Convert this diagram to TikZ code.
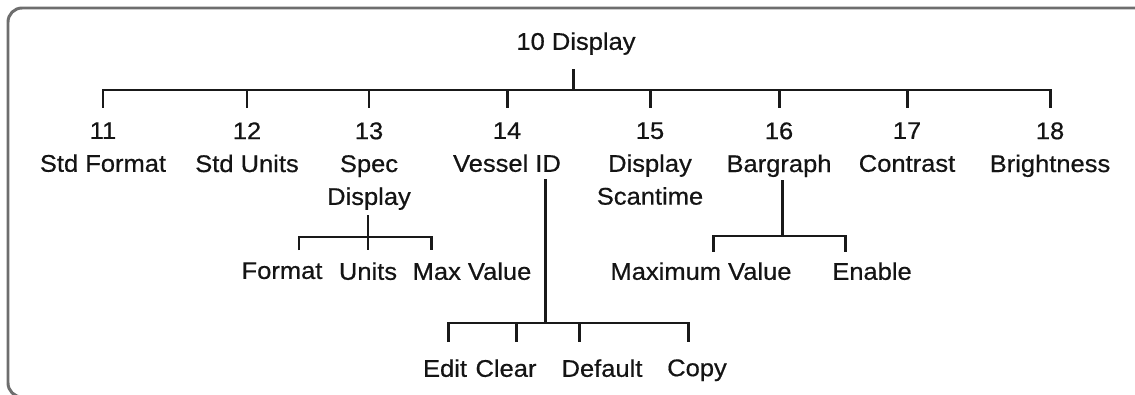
\documentclass[tikz,border=0pt]{standalone}
\usepackage{fontspec}
\setmainfont{Liberation Sans}[FakeStretch=1.06,FakeBold=0.6]
\tikzset{
  item/.style={anchor=north, inner sep=0pt, align=center, text depth=0pt,
    text=black!92, font=\fontsize{13.7}{18.7}\selectfont},
  link/.style={line width=1.7pt, draw=black!90},
  frame/.style={line width=1.7pt, draw=black!57, rounded corners=8pt},
}
\begin{document}
\begin{tikzpicture}[x=0.02cm,y=-0.02cm]
\useasboundingbox (0,0) rectangle (1135,395);
\clip (0,0) rectangle (1135,395);
\draw[frame] (8,8) rectangle (1170,397);

% menu items
\node[item] (disp) at (576,32) {10 Display};
\node[item] (n11) at (103,122) {11\\Std Format};
\node[item] (n12) at (247,122) {12\\Std Units};
\node[item] (n13) at (369,122) {13\\Spec\\Display};
\node[item] (n14) at (507,122) {14\\Vessel ID};
\node[item] (n15) at (650,122) {15\\Display\\Scantime};
\node[item] (n16) at (779,122) {16\\Bargraph};
\node[item] (n17) at (907,122) {17\\Contrast};
\node[item] (n18) at (1050,122) {18\\Brightness};

% sub items
\node[item] (fmt) at (282,262) {Format};
\node[item] (units) at (368,262) {Units};
\node[item] (maxv) at (472,262) {Max Value};
\node[item] (maxi) at (701,262) {Maximum Value};
\node[item] (enab) at (872,262) {Enable};
\node[item] (edit) at (445,359) {Edit};
\node[item] (clear) at (506,359) {Clear};
\node[item] (dflt) at (602,359) {Default};
\node[item] (copy) at (697,359) {Copy};

% junctions
\coordinate (j10) at (573,90);
\coordinate (j13) at (368,237);
\coordinate (j13l) at (299,237);
\coordinate (j13r) at (431,237);
\coordinate (j14) at (545,323);
\coordinate (j14l) at (448,323);
\coordinate (j14b) at (516,323);
\coordinate (j14c) at (579,323);
\coordinate (j14r) at (688,323);
\coordinate (j16) at (782,236);
\coordinate (j16l) at (713,236);
\coordinate (j16r) at (845,236);

% top level
\draw[link, shorten <=11pt] (disp.south -| j10) -- (j10);
\draw[link, shorten <=8pt, shorten >=8pt] (n11.north) |- (j10) -| (n18.north);
\foreach \n in {n12,n13,n14,n15,n16,n17}
  \draw[link, shorten >=8pt] (\n.north |- j10) -- (\n.north);

% 13 Spec Display
\draw[link, shorten <=5.7pt] (n13.south -| j13) -- (j13);
\draw[link, shorten <=6.8pt, shorten >=6.8pt] (fmt.north -| j13l) |- (j13r) -- (maxv.north -| j13r);
\draw[link, shorten >=6.8pt] (j13) -- (units.north -| j13);

% 14 Vessel ID
\draw[link, shorten <=4pt] (n14.south -| j14) -- (j14);
\draw[link, shorten <=9.6pt, shorten >=9.6pt] (edit.north -| j14l) |- (j14r) -- (copy.north -| j14r);
\draw[link, shorten >=9.6pt] (j14b) -- (clear.north -| j14b);
\draw[link, shorten >=9.6pt] (j14c) -- (dflt.north -| j14c);

% 16 Bargraph
\draw[link, shorten <=4.5pt] (n16.south -| j16) -- (j16);
\draw[link, shorten <=5.7pt, shorten >=5.7pt] (maxi.north -| j16l) |- (j16r) -- (enab.north -| j16r);
\end{tikzpicture}
\end{document}
